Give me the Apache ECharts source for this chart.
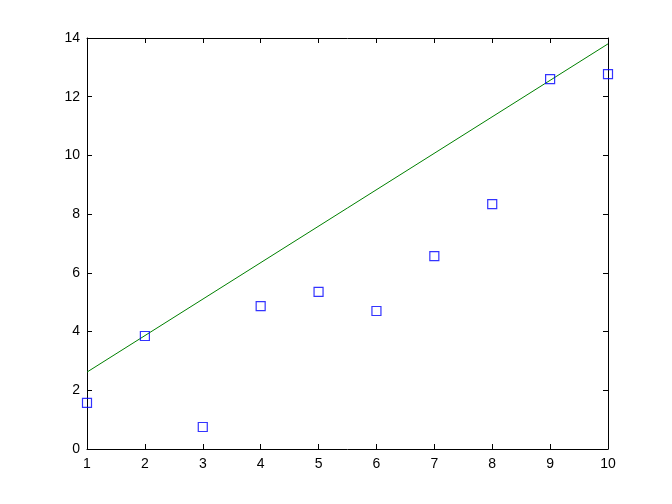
<!DOCTYPE html>
<html><head><meta charset="utf-8">
<script src="https://cdn.jsdelivr.net/npm/echarts@6/dist/echarts.min.js"></script>
<style>html,body{margin:0;padding:0;background:#fff}#c{width:672px;height:504px}</style>
</head><body><div id="c"></div>
<script>
var xValues = [1, 2, 3, 4, 5, 6, 7, 8, 9, 10];
var yValues = [1.57, 3.85, 0.75, 4.87, 5.35, 4.70, 6.57, 8.34, 12.6, 12.77];
var lineX = [1, 10];
var lineY = [2.62, 13.8];

var chart = echarts.init(document.getElementById('c'), null, {renderer: 'canvas'});
var font = {fontFamily: 'Liberation Sans, Arial, sans-serif', fontSize: 14, color: '#000'};
var axisCommon = {
  type: 'value',
  axisLine: {show: true, onZero: false, lineStyle: {color: '#000', width: 1}},
  axisTick: {show: true, inside: true, length: 5, lineStyle: {color: '#000'}},
  splitLine: {show: false}
};
chart.setOption({
  animation: false,
  backgroundColor: '#fff',
  grid: {left: 87, right: 64, top: 38, bottom: 55, containLabel: false},
  xAxis: [
    Object.assign({}, axisCommon, {position: 'bottom', min: 1, max: 10, interval: 1,
      axisLabel: Object.assign({margin: 8}, font)}),
    Object.assign({}, axisCommon, {position: 'top', min: 1, max: 10, interval: 1,
      axisLabel: {show: false}})
  ],
  yAxis: [
    Object.assign({}, axisCommon, {position: 'left', min: 0, max: 14, interval: 2,
      axisLabel: Object.assign({margin: 7}, font)}),
    Object.assign({}, axisCommon, {position: 'right', min: 0, max: 14, interval: 2,
      axisLabel: {show: false}})
  ],
  series: [
    {
      type: 'line',
      data: lineX.map(function (x, i) { return [x, lineY[i]]; }),
      showSymbol: false,
      lineStyle: {color: '#008000', width: 1},
      z: 2
    },
    {
      type: 'scatter',
      data: xValues.map(function (x, i) { return [x, yValues[i]]; }),
      symbol: 'rect',
      symbolSize: 9,
      itemStyle: {color: 'rgba(0,0,0,0)', borderColor: '#0000ff', borderWidth: 1.2},
      z: 3
    }
  ]
});
</script></body></html>
